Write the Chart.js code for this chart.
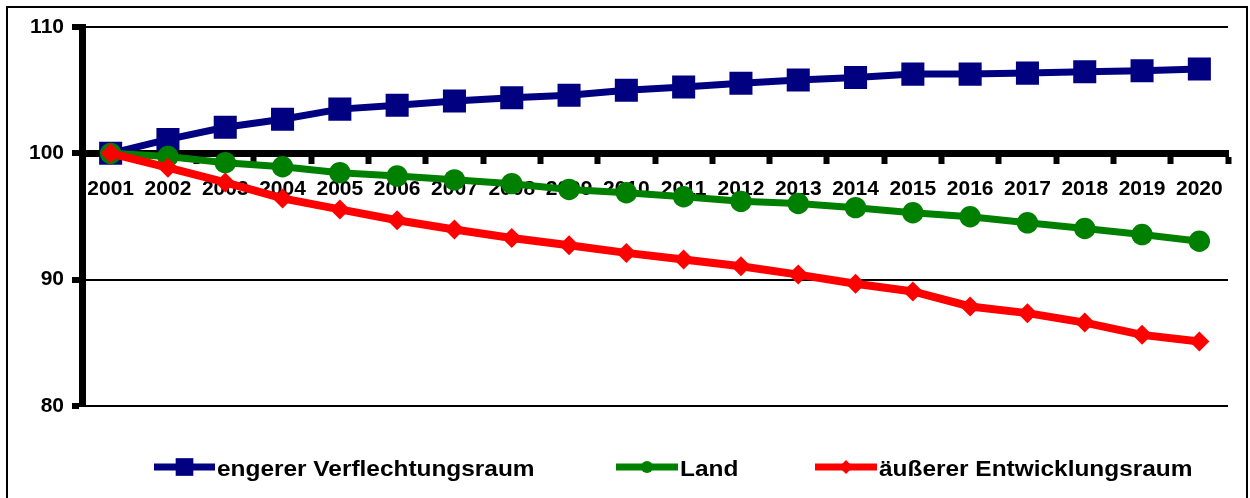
<!DOCTYPE html>
<html>
<head>
<meta charset="utf-8">
<script src="https://cdn.jsdelivr.net/npm/chart.js@4/dist/chart.umd.min.js"></script>
<style>
  html, body { margin: 0; padding: 0; background: #ffffff; }
  #wrap { width: 1250px; height: 498px; }
</style>
</head>
<body>
<div id="wrap"><canvas id="c" width="1250" height="498"></canvas></div>
<script>
// Bevölkerungsentwicklung, Index 2001 = 100
const years = ['2001','2002','2003','2004','2005','2006','2007','2008','2009','2010',
               '2011','2012','2013','2014','2015','2016','2017','2018','2019','2020'];

const engererVerflechtungsraum = [100.0, 101.1, 102.06, 102.7, 103.5, 103.8, 104.15, 104.4, 104.6, 105.0,
                                  105.25, 105.55, 105.8, 106.0, 106.27, 106.27, 106.35, 106.45, 106.53, 106.67];

const land = [100.0, 99.75, 99.26, 98.94, 98.47, 98.2, 97.9, 97.6, 97.14, 96.88,
              96.56, 96.2, 96.03, 95.7, 95.3, 94.98, 94.5, 94.05, 93.57, 93.04];

const aeussererEntwicklungsraum = [100.0, 98.86, 97.7, 96.43, 95.56, 94.7, 93.97, 93.3, 92.72, 92.12,
                                   91.59, 91.06, 90.4, 89.68, 89.07, 87.88, 87.35, 86.6, 85.63, 85.1];

const yMin = 80, yMax = 110, yStep = 10;
const crossValue = 100;

const FONT_FAMILY = "'Liberation Sans', Arial, sans-serif";

// Legend drawn on the canvas: a short line with the series marker in the middle
const legendLayout = [
  { x: 154, w: 61, r: 12.5 },
  { x: 616, w: 62, r: 6 },
  { x: 815, w: 62, r: 7 }
];

const lineLegend = {
  id: 'lineLegend',
  afterDraw(chart) {
    const ctx = chart.ctx;
    const y = 467;
    ctx.save();
    chart.data.datasets.forEach((ds, i) => {
      const l = legendLayout[i];
      ctx.strokeStyle = ds.borderColor;
      ctx.lineWidth = 7;
      ctx.lineCap = 'butt';
      ctx.beginPath();
      ctx.moveTo(l.x, y);
      ctx.lineTo(l.x + l.w, y);
      ctx.stroke();
      ctx.fillStyle = ds.pointBackgroundColor;
      Chart.helpers.drawPoint(ctx, { pointStyle: ds.pointStyle, radius: l.r, borderWidth: 0, rotation: 0 },
                              l.x + l.w / 2, y);
      // wide bold label text
      ctx.save();
      ctx.translate(l.x + l.w + 2, 476);
      ctx.scale(1.11, 1);
      ctx.fillStyle = '#000000';
      ctx.font = 'bold 22px ' + FONT_FAMILY;
      ctx.textBaseline = 'alphabetic';
      ctx.textAlign = 'left';
      ctx.fillText(ds.label, 0, 0);
      ctx.restore();
    });
    ctx.restore();
  }
};

// Thin frame around the whole chart
const frame = {
  id: 'frame',
  afterDraw(chart) {
    const ctx = chart.ctx;
    ctx.save();
    ctx.strokeStyle = '#000000';
    ctx.lineWidth = 2;
    ctx.strokeRect(7, 7, 1240, 500);
    ctx.restore();
  }
};

new Chart(document.getElementById('c'), {
  type: 'line',
  data: {
    labels: years,
    datasets: [
      {
        label: 'engerer Verflechtungsraum',
        data: engererVerflechtungsraum,
        borderColor: '#000080',
        backgroundColor: '#000080',
        pointBackgroundColor: '#000080',
        pointBorderColor: '#000080',
        borderWidth: 7,
        pointStyle: 'rect',
        pointRadius: 16.3,
        pointBorderWidth: 0,
        order: 2
      },
      {
        label: 'Land',
        data: land,
        borderColor: '#008000',
        backgroundColor: '#008000',
        pointBackgroundColor: '#008000',
        pointBorderColor: '#008000',
        borderWidth: 7,
        pointStyle: 'circle',
        pointRadius: 10.7,
        pointBorderWidth: 0,
        order: 1
      },
      {
        label: 'äußerer Entwicklungsraum',
        data: aeussererEntwicklungsraum,
        borderColor: '#ff0000',
        backgroundColor: '#ff0000',
        pointBackgroundColor: '#ff0000',
        pointBorderColor: '#ff0000',
        borderWidth: 8,
        pointStyle: 'rectRot',
        pointRadius: 10,
        pointBorderWidth: 0,
        order: 0
      }
    ]
  },
  options: {
    responsive: false,
    animation: false,
    devicePixelRatio: 1,
    layout: { padding: { left: 20, top: 27, right: 22, bottom: 92 } },
    elements: { line: { tension: 0 } },
    plugins: {
      legend: { display: false },
      tooltip: { enabled: false }
    },
    scales: {
      y: {
        min: yMin,
        max: yMax,
        afterFit(scale) { scale.width = 62; },
        ticks: {
          stepSize: yStep,
          padding: 8,
          color: '#000000',
          font: { family: FONT_FAMILY, size: 21, weight: 'bold' }
        },
        grid: {
          color: '#000000',
          lineWidth: 2,
          tickLength: 10,
          tickWidth: 6,
          tickColor: '#000000'
        },
        border: { display: true, color: '#000000', width: 7 }
      },
      x: {
        type: 'category',
        position: { y: crossValue },
        offset: true,
        ticks: { display: false },
        grid: {
          offset: true,
          drawOnChartArea: false,
          drawTicks: true,
          tickLength: 7,
          tickWidth: 6,
          tickColor: '#000000'
        },
        border: { display: true, color: '#000000', width: 7 }
      },
      xLabels: {
        type: 'category',
        labels: years,
        position: { y: crossValue },
        offset: true,
        z: 1,
        grid: { display: false, drawTicks: false },
        border: { display: false },
        ticks: {
          padding: 23,
          maxRotation: 0,
          autoSkip: false,
          color: '#000000',
          font: { family: FONT_FAMILY, size: 21, weight: 'bold' }
        }
      }
    }
  },
  plugins: [lineLegend, frame]
});
</script>
</body>
</html>
